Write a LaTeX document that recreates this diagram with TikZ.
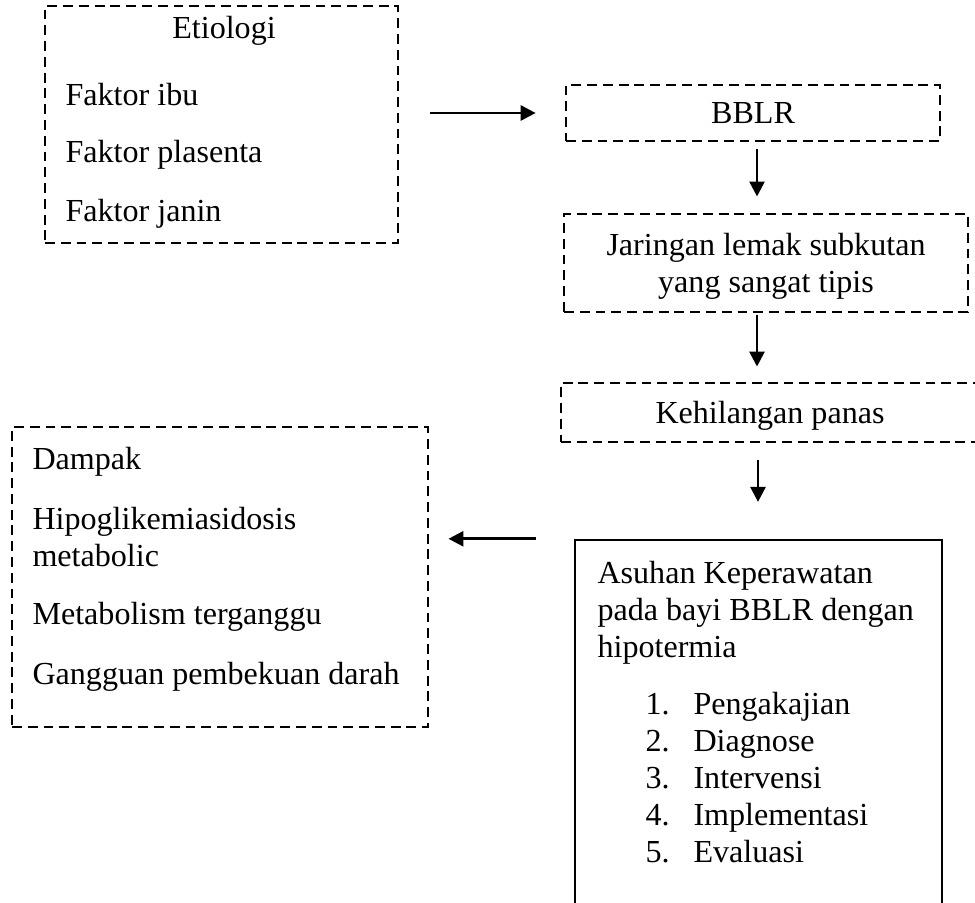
\documentclass[tikz,border=0pt]{standalone}
\usepackage{fontspec}
\setmainfont{Liberation Serif}
\usetikzlibrary{arrows.meta, positioning}
\newlength\pxu
\setlength\pxu{0.374pt}

\begin{document}
\begin{tikzpicture}[
    x=\pxu, y=-\pxu,
    font=\fontsize{12}{13.8}\selectfont,
    dashbox/.style={rectangle, draw, line width=1.1pt, dash pattern=on 3.7pt off 2.2pt, inner sep=0pt, align=center},
    solidbox/.style={rectangle, draw, line width=0.9pt, inner sep=0pt},
    txt/.style={anchor=base west, inner sep=0pt},
    arrow/.style={-{Triangle[length=5.6pt, width=5.6pt]}, line width=1pt}
  ]
    \useasboundingbox (0,0) rectangle (975,903);

    % boxes
    \node[dashbox, minimum width=353\pxu, minimum height=237\pxu] (etio) at (221.5,124.5) {};
    \node[dashbox, minimum width=374\pxu, minimum height=56\pxu] (bblr) at (753,113) {BBLR};
    \node[dashbox, minimum width=404\pxu, minimum height=98\pxu, text depth=0pt] (jar) at (766,263) {Jaringan lemak subkutan\\yang sangat tipis};
    \node[dashbox, minimum width=418\pxu, minimum height=59\pxu, text depth=0pt] (kehil) at (770,412.5) {Kehilangan panas};
    \node[solidbox, minimum width=367\pxu, minimum height=375\pxu] (asuhan) at (758.5,727.5) {};
    \node[dashbox, minimum width=416\pxu, minimum height=300\pxu] (dampak) at (220,577) {};

    % etiologi
    \node[txt, anchor=base] (etiotitle) at (224,39) {Etiologi};
    \node[txt] (ibu) at (65,106) {Faktor ibu};
    \node[txt] (plasenta) at (65,163) {Faktor plasenta};
    \node[txt] (janin) at (65,222) {Faktor janin};

    % dampak
    \node[txt] (dampaktitle) at (32,470) {Dampak};
    \node[txt] (hipo) at (32,530) {Hipoglikemiasidosis};
    \node[txt] (meta) at (32,567) {metabolic};
    \node[txt] (metab) at (32,625) {Metabolism terganggu};
    \node[txt] (darah) at (32,685) {Gangguan pembekuan darah};

    % asuhan keperawatan
    \foreach \t [count=\i] in {Asuhan Keperawatan, pada bayi BBLR dengan, hipotermia}
      \node[txt] (ask\i) at (597,{584+36.5*(\i-1)}) {\t};
    \foreach \t [count=\i] in {Pengakajian, Diagnose, Intervensi, Implementasi, Evaluasi} {
      \node[txt] (num\i) at (645,{714+37.2*(\i-1)}) {\i.};
      \node[txt] (step\i) at (693,{714+37.2*(\i-1)}) {\t};
    }

    % arrows
    \draw[arrow, shorten <=11.6pt, shorten >=10.8pt] (etio.east |- bblr.west) -- (bblr.west);
    \draw[arrow, shorten <=2.6pt, shorten >=6pt] ([xshift=4\pxu]bblr.south) -- ([xshift=4\pxu]bblr.south |- jar.north);
    \draw[arrow, shorten <=0.4pt, shorten >=5.6pt] ([xshift=-9\pxu]jar.south) -- ([xshift=-9\pxu]jar.south |- kehil.north);
    \draw[arrow, shorten <=6pt, shorten >=13.8pt] ([xshift=-12\pxu]kehil.south) -- ([xshift=-12\pxu]kehil.south |- asuhan.north);
    \draw[arrow, shorten <=14.2pt, shorten >=7.1pt] (asuhan.north west) -- (dampak.east |- asuhan.north west);
\end{tikzpicture}
\end{document}
